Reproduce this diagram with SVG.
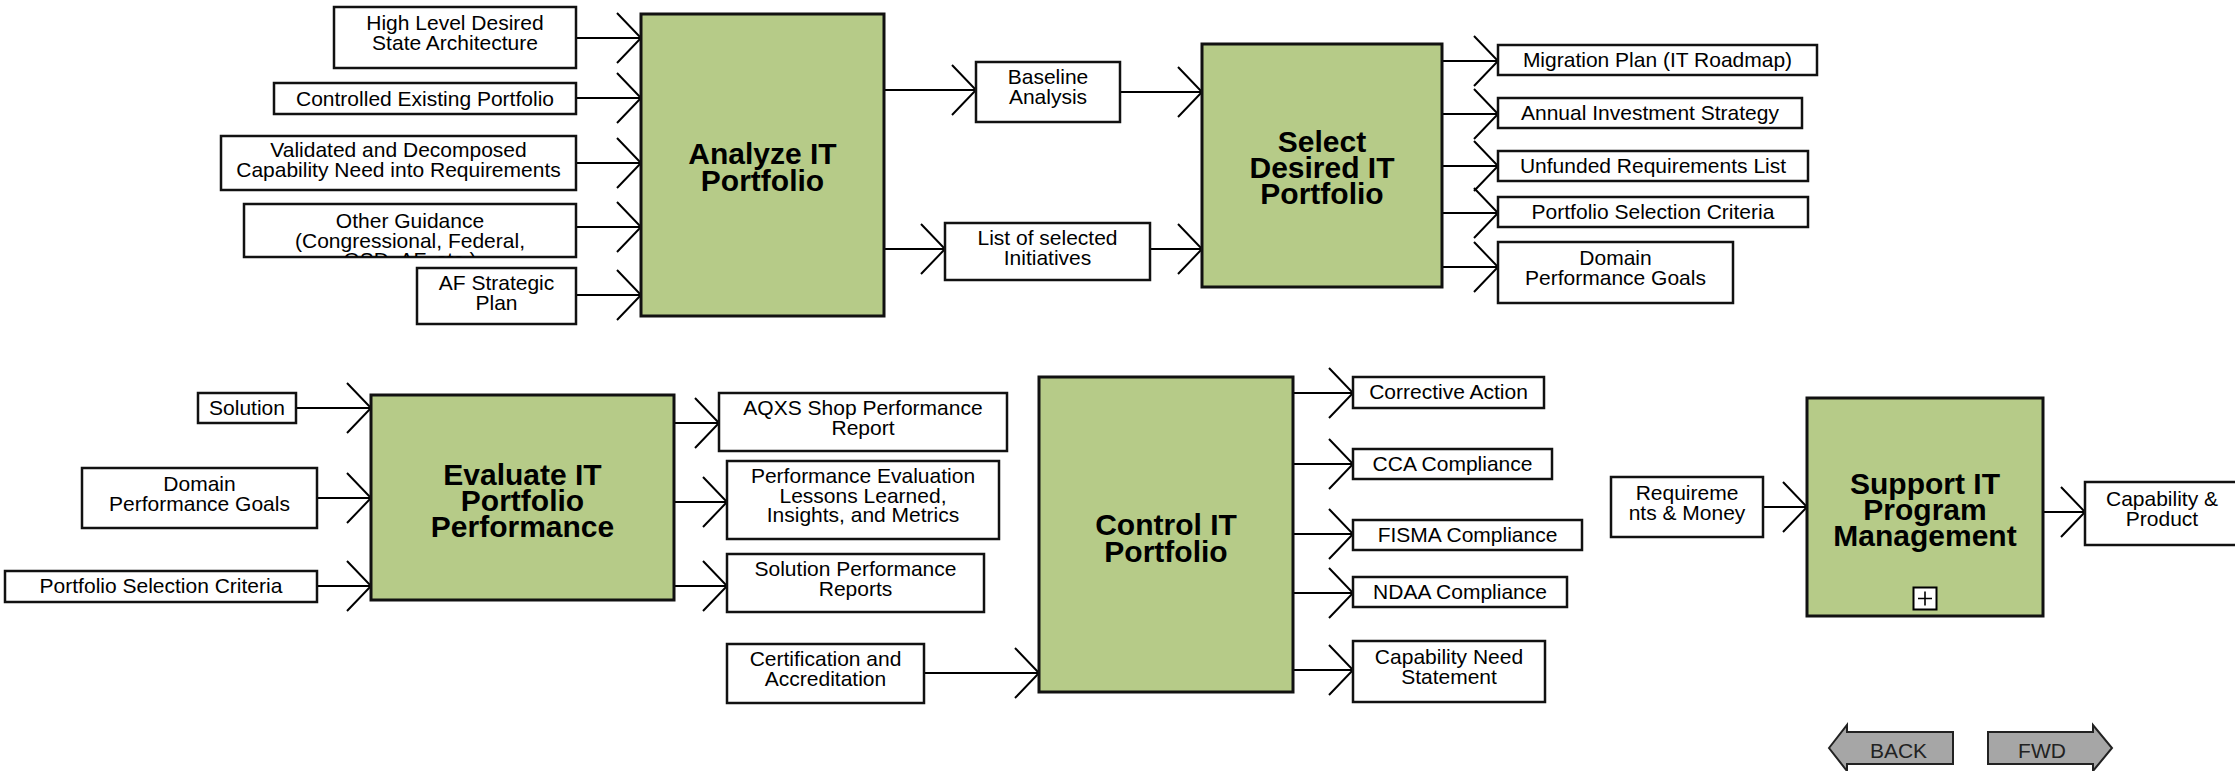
<svg xmlns="http://www.w3.org/2000/svg" width="2235" height="771" viewBox="0 0 2235 771">
<style>
.lb{fill:#fff;stroke:#111;stroke-width:2.5}
.pr{fill:#b6cb88;stroke:#111;stroke-width:3}
.t{font-family:"Liberation Sans",Arial,sans-serif;font-size:21px;text-anchor:middle;fill:#000}
.h{font-family:"Liberation Sans",Arial,sans-serif;font-size:30px;font-weight:bold;text-anchor:middle;fill:#000}
.c line{stroke:#000;stroke-width:2;marker-end:url(#chev)}
.nav{fill:#a6a6a6;stroke:#222;stroke-width:2}
</style>
<defs>
<marker id="chev" markerUnits="userSpaceOnUse" markerWidth="28" markerHeight="54" viewBox="-2 -2 28 54" refX="24" refY="25" orient="auto" overflow="visible">
<path d="M0,0 L24,25 L0,50" fill="none" stroke="#000" stroke-width="2"/>
</marker>
<clipPath id="ogclip"><rect x="244" y="204" width="332" height="53"/></clipPath>
</defs>
<rect width="2235" height="771" fill="#fff"/>

<g id="connectors" class="c">
<line x1="576" y1="38" x2="641" y2="38"/>
<line x1="576" y1="98" x2="641" y2="98"/>
<line x1="576" y1="163" x2="641" y2="163"/>
<line x1="576" y1="227" x2="641" y2="227"/>
<line x1="576" y1="295" x2="641" y2="295"/>
<line x1="884" y1="90" x2="976" y2="90"/>
<line x1="1120" y1="92" x2="1202" y2="92"/>
<line x1="884" y1="249" x2="945" y2="249"/>
<line x1="1150" y1="249" x2="1202" y2="249"/>
<line x1="1442" y1="61" x2="1498" y2="61"/>
<line x1="1442" y1="114" x2="1498" y2="114"/>
<line x1="1442" y1="166" x2="1498" y2="166"/>
<line x1="1442" y1="213" x2="1498" y2="213"/>
<line x1="1442" y1="267" x2="1498" y2="267"/>
<line x1="296" y1="408" x2="371" y2="408"/>
<line x1="317" y1="498" x2="371" y2="498"/>
<line x1="317" y1="586" x2="371" y2="586"/>
<line x1="674" y1="423" x2="719" y2="423"/>
<line x1="674" y1="502" x2="727" y2="502"/>
<line x1="674" y1="586" x2="727" y2="586"/>
<line x1="924" y1="673" x2="1039" y2="673"/>
<line x1="1293" y1="393" x2="1353" y2="393"/>
<line x1="1293" y1="464" x2="1353" y2="464"/>
<line x1="1293" y1="534" x2="1353" y2="534"/>
<line x1="1293" y1="593" x2="1353" y2="593"/>
<line x1="1293" y1="670" x2="1353" y2="670"/>
<line x1="1763" y1="507" x2="1807" y2="507"/>
<line x1="2043" y1="512" x2="2085" y2="512"/>
</g>

<g id="n-hlda"><rect class="lb" x="334" y="7" width="242" height="61"/><text class="t" x="455"><tspan x="455" y="30">High Level Desired</tspan><tspan x="455" y="50">State Architecture</tspan></text></g>
<g id="n-cep"><rect class="lb" x="274" y="83" width="302" height="31"/><text class="t" x="425" y="106">Controlled Existing Portfolio</text></g>
<g id="n-vdc"><rect class="lb" x="221" y="136" width="355" height="54"/><text class="t"><tspan x="398.5" y="157">Validated and Decomposed</tspan><tspan x="398.5" y="177">Capability Need into Requirements</tspan></text></g>
<g id="n-og"><rect class="lb" x="244" y="204" width="332" height="53"/><text class="t" clip-path="url(#ogclip)"><tspan x="410" y="228">Other Guidance</tspan><tspan x="410" y="247.5">(Congressional, Federal,</tspan><tspan x="410" y="267">OSD, AF, etc.)</tspan></text></g>
<g id="n-afsp"><rect class="lb" x="417" y="268" width="159" height="56"/><text class="t"><tspan x="496.5" y="290">AF Strategic</tspan><tspan x="496.5" y="310">Plan</tspan></text></g>
<g id="n-analyze"><rect class="pr" x="641" y="14" width="243" height="302"/><text class="h"><tspan x="762.5" y="164">Analyze IT</tspan><tspan x="762.5" y="191">Portfolio</tspan></text></g>
<g id="n-baseline"><rect class="lb" x="976" y="62" width="144" height="60"/><text class="t"><tspan x="1048" y="84">Baseline</tspan><tspan x="1048" y="104">Analysis</tspan></text></g>
<g id="n-list"><rect class="lb" x="945" y="223" width="205" height="57"/><text class="t"><tspan x="1047.5" y="245">List of selected</tspan><tspan x="1047.5" y="265">Initiatives</tspan></text></g>
<g id="n-select"><rect class="pr" x="1202" y="44" width="240" height="243"/><text class="h"><tspan x="1322" y="152">Select</tspan><tspan x="1322" y="178">Desired IT</tspan><tspan x="1322" y="204">Portfolio</tspan></text></g>
<g id="n-migration"><rect class="lb" x="1498" y="45" width="319" height="30"/><text class="t" x="1657.5" y="67">Migration Plan (IT Roadmap)</text></g>
<g id="n-annual"><rect class="lb" x="1498" y="98" width="304" height="30"/><text class="t" x="1650" y="120">Annual Investment Strategy</text></g>
<g id="n-unfunded"><rect class="lb" x="1498" y="151" width="310" height="30"/><text class="t" x="1653" y="173">Unfunded Requirements List</text></g>
<g id="n-psc1"><rect class="lb" x="1498" y="197" width="310" height="30"/><text class="t" x="1653" y="219">Portfolio Selection Criteria</text></g>
<g id="n-dpg1"><rect class="lb" x="1498" y="242" width="235" height="61"/><text class="t"><tspan x="1615.5" y="265">Domain</tspan><tspan x="1615.5" y="285">Performance Goals</tspan></text></g>

<g id="n-solution"><rect class="lb" x="198" y="393" width="98" height="30"/><text class="t" x="247" y="415">Solution</text></g>
<g id="n-dpg2"><rect class="lb" x="82" y="468" width="235" height="60"/><text class="t"><tspan x="199.5" y="490.5">Domain</tspan><tspan x="199.5" y="510.5">Performance Goals</tspan></text></g>
<g id="n-psc2"><rect class="lb" x="5" y="571" width="312" height="31"/><text class="t" x="161" y="593">Portfolio Selection Criteria</text></g>
<g id="n-evaluate"><rect class="pr" x="371" y="395" width="303" height="205"/><text class="h"><tspan x="522.5" y="485">Evaluate IT</tspan><tspan x="522.5" y="511">Portfolio</tspan><tspan x="522.5" y="537">Performance</tspan></text></g>
<g id="n-aqxs"><rect class="lb" x="719" y="393" width="288" height="58"/><text class="t"><tspan x="863" y="414.5">AQXS Shop Performance</tspan><tspan x="863" y="434.5">Report</tspan></text></g>
<g id="n-pell"><rect class="lb" x="727" y="461" width="272" height="78"/><text class="t"><tspan x="863" y="483">Performance Evaluation</tspan><tspan x="863" y="502.5">Lessons Learned,</tspan><tspan x="863" y="522">Insights, and Metrics</tspan></text></g>
<g id="n-spr"><rect class="lb" x="727" y="554" width="257" height="58"/><text class="t"><tspan x="855.5" y="576">Solution Performance</tspan><tspan x="855.5" y="596">Reports</tspan></text></g>
<g id="n-cna"><rect class="lb" x="727" y="644" width="197" height="59"/><text class="t"><tspan x="825.5" y="665.5">Certification and</tspan><tspan x="825.5" y="685.5">Accreditation</tspan></text></g>
<g id="n-control"><rect class="pr" x="1039" y="377" width="254" height="315"/><text class="h"><tspan x="1166" y="535">Control IT</tspan><tspan x="1166" y="561.5">Portfolio</tspan></text></g>
<g id="n-corrective"><rect class="lb" x="1353" y="377" width="191" height="31"/><text class="t" x="1448.5" y="399">Corrective Action</text></g>
<g id="n-cca"><rect class="lb" x="1353" y="449" width="199" height="30"/><text class="t" x="1452.5" y="471">CCA Compliance</text></g>
<g id="n-fisma"><rect class="lb" x="1353" y="520" width="229" height="30"/><text class="t" x="1467.5" y="542">FISMA Compliance</text></g>
<g id="n-ndaa"><rect class="lb" x="1353" y="577" width="214" height="30"/><text class="t" x="1460" y="599">NDAA Compliance</text></g>
<g id="n-cns"><rect class="lb" x="1353" y="641" width="192" height="61"/><text class="t"><tspan x="1449" y="663.5">Capability Need</tspan><tspan x="1449" y="683.5">Statement</tspan></text></g>

<g id="n-reqmoney"><rect class="lb" x="1611" y="477" width="152" height="60"/><text class="t"><tspan x="1687" y="499.5">Requireme</tspan><tspan x="1687" y="519.5">nts &amp; Money</tspan></text></g>
<g id="n-support"><rect class="pr" x="1807" y="398" width="236" height="218"/><text class="h"><tspan x="1925" y="493.5">Support IT</tspan><tspan x="1925" y="519.5">Program</tspan><tspan x="1925" y="545.5">Management</tspan></text>
<rect x="1913.5" y="587.5" width="23" height="22" fill="#fff" stroke="#000" stroke-width="2"/><path d="M1925,591.5 V605.5 M1918,598.5 H1932" stroke="#000" stroke-width="1.6"/></g>
<g id="n-capprod"><rect class="lb" x="2085" y="482" width="154" height="63"/><text class="t"><tspan x="2162" y="505.5">Capability &amp;</tspan><tspan x="2162" y="525.5">Product</tspan></text></g>

<g id="n-back"><path class="nav" d="M1829,748 L1847,725 L1847,732 L1953,732 L1953,764 L1847,764 L1847,771 Z"/><text class="t" x="1898.5" y="758" style="fill:#222">BACK</text></g>
<g id="n-fwd"><path class="nav" d="M1988,732 L2093,732 L2093,725 L2112,748 L2093,771 L2093,764 L1988,764 Z"/><text class="t" x="2042" y="758" style="fill:#222">FWD</text></g>
</svg>
